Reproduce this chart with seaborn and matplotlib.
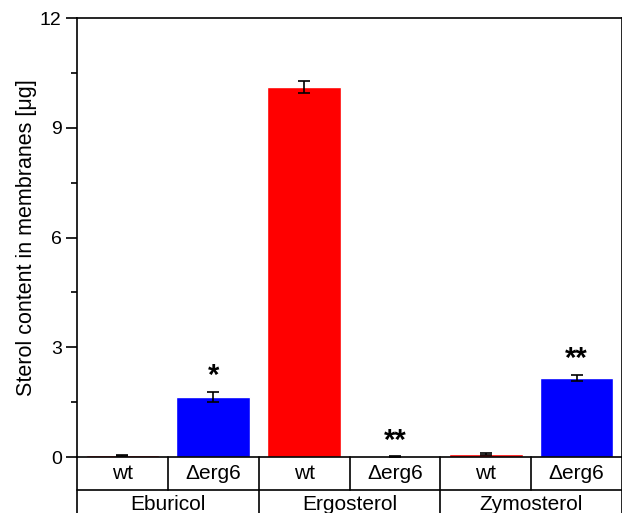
import matplotlib
matplotlib.use("Agg")
import matplotlib.pyplot as plt
import matplotlib.transforms as mtransforms
from matplotlib.ticker import MultipleLocator
import seaborn as sns
import numpy as np
import pandas as pd

# data
sterols = ["Eburicol", "Ergosterol", "Zymosterol"]
genotypes = ["wt", "\u0394erg6"]
values = [0.05, 1.65, 10.11, 0.01, 0.08, 2.16]
errors = [0.01, 0.14, 0.17, 0.01, 0.03, 0.09]
stars = ["", "*", "", "**", "", "**"]

df = pd.DataFrame({
    "sterol": np.repeat(sterols, 2),
    "genotype": genotypes * 3,
    "value": values,
})
df["slot"] = df["sterol"] + " " + df["genotype"]

sns.set_style("ticks", {"text.color": "black", "axes.labelcolor": "black",
                        "xtick.color": "black", "ytick.color": "black",
                        "axes.edgecolor": "black"})
plt.rcParams["font.family"] = ["Liberation Sans", "DejaVu Sans"]

fig = plt.figure(figsize=(6.22, 5.13), dpi=100)
ax = fig.add_axes([77 / 622, 1 - 457 / 513, 545 / 622, 439 / 513])

sns.barplot(data=df, x="slot", y="value", hue="genotype", order=list(df["slot"]),
            palette={"wt": "#ff0000", "\u0394erg6": "#0000ff"}, dodge=False,
            width=0.81, errorbar=None, legend=False, ax=ax, saturation=1)

xpos = np.arange(len(values))
ax.errorbar(xpos, values, yerr=errors, fmt="none", ecolor="black",
            elinewidth=1.2, capsize=4, capthick=1.2, zorder=5)

for x, v, e, s in zip(xpos, values, errors, stars):
    if s:
        ax.text(x, v + e + 0.05, s, ha="center", va="bottom",
                fontsize=21, fontweight="bold", color="black")

ax.set_xlim(-0.5, 5.5)
ax.set_ylim(0, 12)
ax.yaxis.set_major_locator(MultipleLocator(3))
ax.yaxis.set_minor_locator(MultipleLocator(1.5))
ax.tick_params(axis="y", which="major", direction="out", length=8, width=1.2,
               labelsize=14, pad=3, colors="black")
ax.tick_params(axis="y", which="minor", direction="out", length=4.5, width=1.2)
ax.tick_params(axis="x", bottom=False, labelbottom=False)
ax.set_xlabel("")
ax.set_ylabel("Sterol content in membranes [\u03bcg]", fontsize=15.5, labelpad=2,
              color="black")
for sp in ax.spines.values():
    sp.set_visible(True)
    sp.set_linewidth(1.2)
    sp.set_color("black")

# category table under the axis
trans = mtransforms.blended_transform_factory(ax.transData, ax.transAxes)
row1 = -33 / 439
row2 = -60 / 439
line_kw = dict(color="black", lw=1.2, clip_on=False, transform=trans)
ax.plot([-0.5, 5.5], [row1, row1], **line_kw)
for b in np.arange(-0.5, 6.0, 1.0):
    bottom = row2 if (b + 0.5) % 2 == 0 else row1
    ax.plot([b, b], [0, bottom], **line_kw)
for x, g in zip(xpos, df["genotype"]):
    ax.text(x, row1 / 2, g, transform=trans, ha="center", va="center",
            fontsize=15, color="black")
for i, s in enumerate(sterols):
    ax.text(2 * i + 0.5, row1 - 14 / 439, s, transform=trans, ha="center",
            va="center", fontsize=15, color="black")

fig.savefig("out.png", dpi=100)
